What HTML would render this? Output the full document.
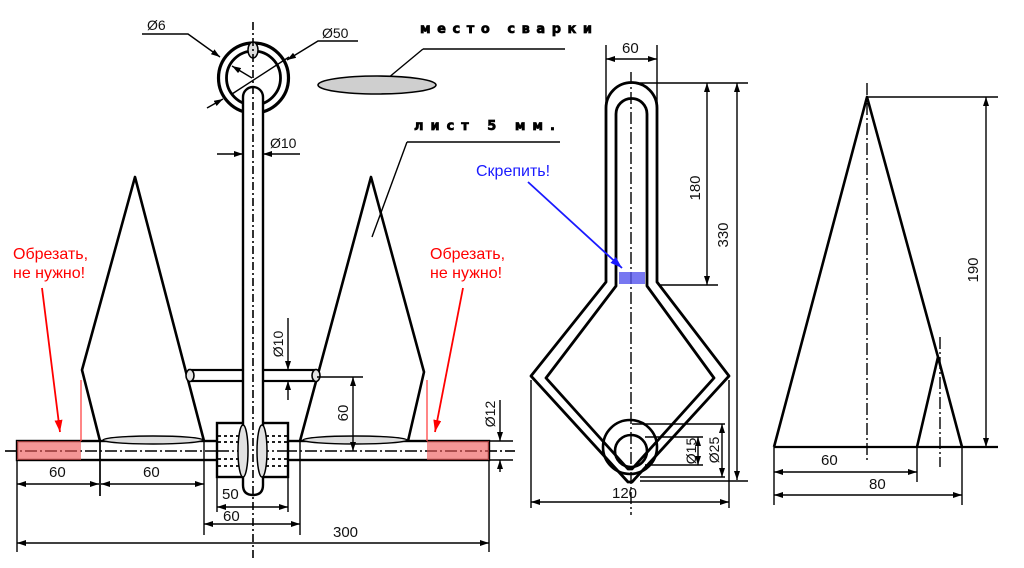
<!DOCTYPE html>
<html><head><meta charset="utf-8"><style>
html,body{margin:0;padding:0;background:#fff;}
svg{display:block;}
text{font-family:"Liberation Sans","DejaVu Sans",sans-serif;fill:#111;}
</style></head><body>
<svg width="1024" height="568" viewBox="0 0 1024 568" xmlns="http://www.w3.org/2000/svg">
<defs>
<marker id="a" markerWidth="9" markerHeight="6" refX="9" refY="3" orient="auto-start-reverse" markerUnits="userSpaceOnUse"><path d="M0,0 L9,3 L0,6 z" fill="#000"/></marker>
<marker id="r" markerWidth="12" markerHeight="8" refX="12" refY="4" orient="auto" markerUnits="userSpaceOnUse"><path d="M0,0 L12,4 L0,8 z" fill="#f00"/></marker>
<marker id="b" markerWidth="12" markerHeight="8" refX="12" refY="4" orient="auto" markerUnits="userSpaceOnUse"><path d="M0,0 L12,4 L0,8 z" fill="#1a1aff"/></marker>
</defs>
<rect width="1024" height="568" fill="#fff"/>

<!-- ===== LEFT VIEW ===== -->
<g stroke="#000" fill="none">
 <line x1="5" y1="451" x2="515" y2="451" stroke-width="1.3" stroke-dasharray="12 3 2 3"/>
 <rect x="17" y="441" width="472" height="19" stroke-width="2.4" fill="#fff"/>
 <line x1="5" y1="451" x2="515" y2="451" stroke-width="1.4" stroke-dasharray="12 3 2 3"/>
 <polyline points="100,441 82,370 135,177 204,441" stroke-width="2.6" stroke-linejoin="round"/>
 <polyline points="300,441 371,177 424,372 408,441" stroke-width="2.6" stroke-linejoin="round"/>
 <ellipse cx="153" cy="440" rx="50" ry="4" fill="#ddd" stroke-width="1.4"/>
 <ellipse cx="355" cy="440" rx="52" ry="4" fill="#ddd" stroke-width="1.4"/>
 <rect x="189" y="370" width="127" height="11" stroke-width="2.2" fill="#fff"/>
 <ellipse cx="190" cy="375.5" rx="4" ry="6" fill="#e4e4e4" stroke-width="1.6"/>
 <ellipse cx="316" cy="375.5" rx="4" ry="6" fill="#e4e4e4" stroke-width="1.6"/>
 <rect x="217" y="423" width="71" height="54" stroke-width="2.4" fill="#fff"/>
 <g stroke-width="1.7" stroke-dasharray="3 3">
  <line x1="218" y1="436" x2="287" y2="436"/>
  <line x1="218" y1="442" x2="287" y2="442"/>
  <line x1="218" y1="459" x2="287" y2="459"/>
  <line x1="218" y1="466" x2="287" y2="466"/>
 </g>
 <line x1="217" y1="451" x2="288" y2="451" stroke-width="1.4" stroke-dasharray="12 3 2 3"/>
 <circle cx="253.5" cy="78" r="35" stroke-width="3.2"/>
 <circle cx="253.5" cy="78" r="27" stroke-width="2.8"/>
 <ellipse cx="253" cy="50" rx="5" ry="8" fill="#ddd" stroke-width="1.5"/>
 <path d="M243,485 L243,97 A10,10 0 0 1 263,97 L263,485 Q263,495 253,495 Q243,495 243,485 Z" stroke-width="2.4" fill="#fff"/>
 <ellipse cx="243" cy="451" rx="5" ry="26" fill="#e2e2e2" stroke-width="1.5"/>
 <ellipse cx="262" cy="451" rx="5" ry="26" fill="#e2e2e2" stroke-width="1.5"/>
 <line x1="253" y1="22" x2="253" y2="560" stroke-width="1.6" stroke-dasharray="8 3 2 3"/>
</g>

<rect x="17" y="441" width="64" height="19" fill="#ee5555" fill-opacity="0.62"/>
<rect x="427" y="441" width="62" height="19" fill="#ee5555" fill-opacity="0.62"/>
<line x1="81" y1="380" x2="81" y2="441" stroke="#f44" stroke-width="1.3"/>
<line x1="427" y1="380" x2="427" y2="441" stroke="#f44" stroke-width="1.3"/>
<line x1="42" y1="288" x2="60" y2="432" stroke="#f00" stroke-width="1.8" marker-end="url(#r)"/>
<line x1="463" y1="288" x2="435" y2="432" stroke="#f00" stroke-width="1.8" marker-end="url(#r)"/>
<text x="13" y="259" font-size="16" style="fill:#f00">Обрезать,</text>
<text x="13" y="278" font-size="16" style="fill:#f00">не нужно!</text>
<text x="430" y="259" font-size="16" style="fill:#f00">Обрезать,</text>
<text x="430" y="278" font-size="16" style="fill:#f00">не нужно!</text>

<g stroke="#000" stroke-width="1.4" fill="none">
 <polyline points="142,34 188,34 220,57" marker-end="url(#a)"/>
 <polyline points="358,41 318,41 287,60" marker-end="url(#a)"/>
 <line x1="207" y1="108" x2="223" y2="99" marker-end="url(#a)"/>
 <line x1="232" y1="94" x2="289" y2="57"/>
 <line x1="252" y1="78" x2="232" y2="66" marker-end="url(#a)"/>
 <line x1="217" y1="154" x2="243" y2="154" marker-end="url(#a)"/>
 <line x1="300" y1="154" x2="263" y2="154" marker-end="url(#a)"/>
 <line x1="423" y1="49" x2="565" y2="49"/>
 <line x1="423" y1="49" x2="376" y2="88"/>
 <line x1="407" y1="142" x2="560" y2="142"/>
 <line x1="407" y1="142" x2="372" y2="237"/>
 <line x1="288" y1="318" x2="288" y2="370" marker-end="url(#a)"/>
 <line x1="288" y1="400" x2="288" y2="381" marker-end="url(#a)"/>
 <line x1="317" y1="377" x2="363" y2="377"/>
 <line x1="353" y1="377" x2="353" y2="451" marker-start="url(#a)" marker-end="url(#a)"/>
 <line x1="489" y1="441" x2="513" y2="441"/>
 <line x1="489" y1="460" x2="513" y2="460"/>
 <line x1="500" y1="400" x2="500" y2="441" marker-end="url(#a)"/>
 <line x1="500" y1="472" x2="500" y2="460" marker-end="url(#a)"/>
 <line x1="17" y1="460" x2="17" y2="552"/>
 <line x1="489" y1="460" x2="489" y2="552"/>
 <line x1="100" y1="441" x2="100" y2="496" stroke-width="1.7"/>
 <line x1="204" y1="441" x2="204" y2="535"/>
 <line x1="300" y1="441" x2="300" y2="535"/>
 <line x1="217" y1="477" x2="217" y2="512"/>
 <line x1="288" y1="477" x2="288" y2="512"/>
 <line x1="17" y1="484" x2="99" y2="484" marker-start="url(#a)" marker-end="url(#a)"/>
 <line x1="101" y1="484" x2="204" y2="484" marker-start="url(#a)" marker-end="url(#a)"/>
 <line x1="217" y1="507" x2="288" y2="507" marker-start="url(#a)" marker-end="url(#a)"/>
 <line x1="204" y1="524" x2="300" y2="524" marker-start="url(#a)" marker-end="url(#a)"/>
 <line x1="17" y1="543" x2="489" y2="543" marker-start="url(#a)" marker-end="url(#a)"/>
</g>
<ellipse cx="377" cy="85" rx="59" ry="9" fill="#cfcfcf" stroke="#000" stroke-width="1.6"/>

<g font-size="15">
 <text x="147" y="30" font-size="14">Ø6</text>
 <text x="322" y="38" font-size="14">Ø50</text>
 <text x="270" y="148" font-size="14">Ø10</text>
 <text x="49" y="477">60</text>
 <text x="143" y="477">60</text>
 <text x="222" y="499">50</text>
 <text x="223" y="521">60</text>
 <text x="333" y="537">300</text>
 <text transform="translate(283,344) rotate(-90)" text-anchor="middle" font-size="14">Ø10</text>
 <text transform="translate(348,413) rotate(-90)" text-anchor="middle">60</text>
 <text transform="translate(495,414) rotate(-90)" text-anchor="middle" font-size="14">Ø12</text>
</g>
<text x="420" y="33" textLength="172" lengthAdjust="spacing" font-size="13" font-weight="900" stroke="#000" stroke-width="0.7" style="font-family:'DejaVu Sans',sans-serif;fill:#000">место сварки</text>
<text x="414" y="130" textLength="141" lengthAdjust="spacing" font-size="13" font-weight="900" stroke="#000" stroke-width="0.7" style="font-family:'DejaVu Sans',sans-serif;fill:#000">лист 5 мм.</text>

<!-- ===== MIDDLE VIEW ===== -->
<g stroke="#000" fill="none" stroke-linejoin="round">
 <path d="M606,282 L606,108 A25.5,25.5 0 0 1 657,108 L657,282 L729,376 L632,482 L628,482 L531,376 Z" stroke-width="2.8"/>
 <path d="M616,286 L616,114 A15.5,15.5 0 0 1 647,114 L647,286 L714,378 L632,469 L628,469 L546,378 Z" stroke-width="2.8"/>
 <circle cx="630" cy="447" r="27" stroke-width="2.6"/>
 <circle cx="631" cy="451" r="16" stroke-width="2.6"/>
 <line x1="631" y1="72" x2="631" y2="515" stroke-width="1.4" stroke-dasharray="12 3 2 3"/>
</g>
<rect x="619" y="272" width="26" height="12" fill="#5555ee" fill-opacity="0.8"/>
<line x1="528" y1="182" x2="622" y2="268" stroke="#1a1aff" stroke-width="1.8" marker-end="url(#b)"/>
<text x="476" y="176" font-size="16" style="fill:#1a1aff">Скрепить!</text>

<g stroke="#000" stroke-width="1.4" fill="none">
 <line x1="606" y1="45" x2="606" y2="108"/>
 <line x1="657" y1="45" x2="657" y2="108"/>
 <line x1="606" y1="59" x2="657" y2="59" marker-start="url(#a)" marker-end="url(#a)"/>
 <line x1="640" y1="83" x2="748" y2="83"/>
 <line x1="707" y1="83" x2="707" y2="285" marker-start="url(#a)" marker-end="url(#a)"/>
 <line x1="660" y1="285" x2="718" y2="285"/>
 <line x1="737" y1="83" x2="737" y2="480" marker-start="url(#a)" marker-end="url(#a)"/>
 <line x1="640" y1="481" x2="748" y2="481"/>
 <line x1="632" y1="424" x2="725" y2="424"/>
 <line x1="645" y1="437" x2="703" y2="437"/>
 <line x1="645" y1="465" x2="703" y2="465"/>
 <line x1="640" y1="477" x2="725" y2="477"/>
 <line x1="698" y1="437" x2="698" y2="465" marker-start="url(#a)" marker-end="url(#a)"/>
 <line x1="722" y1="424" x2="722" y2="477" marker-start="url(#a)" marker-end="url(#a)"/>
 <line x1="531" y1="380" x2="531" y2="508"/>
 <line x1="729" y1="380" x2="729" y2="508"/>
 <line x1="531" y1="502" x2="729" y2="502" marker-start="url(#a)" marker-end="url(#a)"/>
</g>
<g font-size="15">
 <text x="622" y="53">60</text>
 <text x="612" y="498">120</text>
 <text transform="translate(700,188) rotate(-90)" text-anchor="middle">180</text>
 <text transform="translate(728,235) rotate(-90)" text-anchor="middle">330</text>
 <text transform="translate(696,451) rotate(-90)" text-anchor="middle" font-size="14">Ø15</text>
 <text transform="translate(719,450) rotate(-90)" text-anchor="middle" font-size="14">Ø25</text>
</g>

<!-- ===== RIGHT VIEW ===== -->
<g stroke="#000" fill="none" stroke-linejoin="round">
 <polyline points="774,447 867,97 938,357" stroke-width="2.6"/>
 <polyline points="917,447 938,357 962,447" stroke-width="2.6"/>
 <line x1="774" y1="447" x2="998" y2="447" stroke-width="2.2"/>
 <line x1="867" y1="83" x2="867" y2="460" stroke-width="1.4" stroke-dasharray="12 3 2 3"/>
 <line x1="940" y1="337" x2="940" y2="467" stroke-width="1.4" stroke-dasharray="12 3 2 3"/>
</g>
<g stroke="#000" stroke-width="1.4" fill="none">
 <line x1="867" y1="97" x2="998" y2="97"/>
 <line x1="986" y1="97" x2="986" y2="447" marker-start="url(#a)" marker-end="url(#a)"/>
 <line x1="774" y1="447" x2="774" y2="505"/>
 <line x1="917" y1="447" x2="917" y2="482"/>
 <line x1="962" y1="447" x2="962" y2="505"/>
 <line x1="774" y1="472" x2="917" y2="472" marker-start="url(#a)" marker-end="url(#a)"/>
 <line x1="774" y1="495" x2="962" y2="495" marker-start="url(#a)" marker-end="url(#a)"/>
</g>
<g font-size="15">
 <text x="821" y="465">60</text>
 <text x="869" y="489">80</text>
 <text transform="translate(978,270) rotate(-90)" text-anchor="middle">190</text>
</g>
</svg>
</body></html>
